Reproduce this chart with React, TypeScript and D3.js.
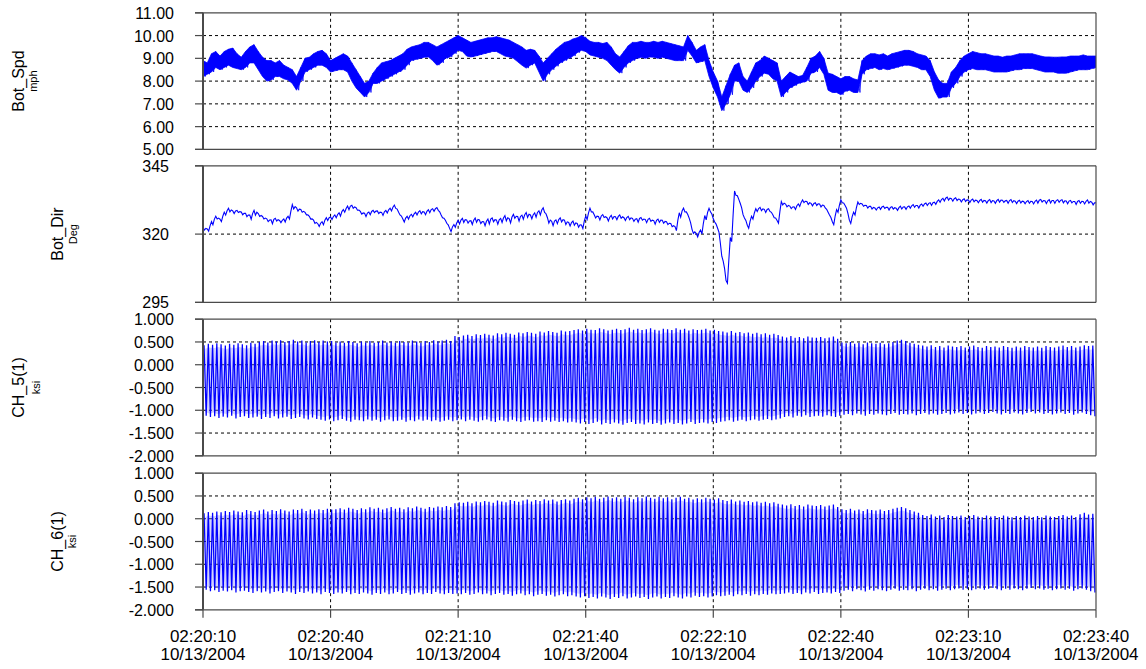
import React from "react";
import * as d3 from "d3";

// ---------- data ----------
const START = new Date(2004, 9, 13, 2, 20, 10);
const SPAN_SECONDS = 210;
const X_TICK_SECONDS = [0, 30, 60, 90, 120, 150, 180, 210];

const SPD_TICKS = [5, 6, 7, 8, 9, 10, 11];
const DIR_TICKS = [295, 320, 345];
const KSI_TICKS = [-2, -1.5, -1, -0.5, 0, 0.5, 1];

// Bot_Spd (mph): per-second max / min of the noisy signal
const SPD_HI = [
  8.9, 8.8, 9.2, 9.3, 9.1, 9.3, 9.4, 9.45, 9.2, 9.05,
  9.3, 9.5, 9.6, 9.3, 9.05, 8.9, 8.9, 8.8, 8.9, 8.7,
  8.6, 8.5, 8.2, 8.6, 9.0, 9.05, 9.2, 9.3, 9.35, 9.2,
  8.9, 9.0, 9.1, 9.2, 9.1, 8.8, 8.5, 8.2, 7.9, 8.0,
  8.35, 8.6, 8.8, 8.85, 8.9, 9.0, 9.1, 9.2, 9.4, 9.5,
  9.55, 9.6, 9.7, 9.7, 9.6, 9.5, 9.6, 9.7, 9.8, 9.9,
  10.0, 9.9, 9.8, 9.7, 9.75, 9.8, 9.85, 9.9, 9.9, 9.95,
  9.9, 9.85, 9.8, 9.7, 9.6, 9.5, 9.35, 9.4, 9.35, 9.1,
  8.8, 9.0, 9.2, 9.4, 9.55, 9.7, 9.75, 9.85, 9.9, 10.0,
  9.9, 9.75, 9.7, 9.7, 9.65, 9.7, 9.5, 9.2, 9.06, 9.3,
  9.55, 9.7, 9.7, 9.75, 9.7, 9.7, 9.75, 9.7, 9.75, 9.7,
  9.65, 9.6, 9.55, 9.5, 10.0, 9.7, 9.35, 9.5, 9.6, 8.9,
  8.4, 8.0, 7.3, 7.8, 8.3, 8.7, 8.8, 8.2, 8.0, 8.4,
  8.8, 8.9, 9.1, 9.0, 8.9, 8.8, 8.0, 8.2, 8.4, 8.3,
  8.2, 8.25, 8.6, 9.0, 9.1, 9.3, 9.0, 8.35, 8.3, 8.2,
  8.1, 8.2, 8.2, 8.1, 8.05, 8.9, 9.1, 9.2, 9.2, 9.15,
  9.2, 9.1, 9.2, 9.25, 9.3, 9.35, 9.35, 9.3, 9.2, 9.15,
  9.1, 8.9, 8.4, 8.05, 7.9, 7.9, 8.4, 8.6, 8.9, 9.1,
  9.2, 9.3, 9.25, 9.2, 9.2, 9.15, 9.1, 9.1, 9.05, 9.1,
  9.1, 9.15, 9.2, 9.2, 9.2, 9.2, 9.15, 9.1, 9.06, 9.06,
  9.05, 9.05, 9.06, 9.06, 9.1, 9.1, 9.1, 9.15, 9.1, 9.1,
  9.1,
];
const SPD_LO = [
  8.2, 8.3, 8.4, 8.6, 8.5, 8.6, 8.7, 8.6, 8.55, 8.5,
  8.6, 8.8, 8.8, 8.5, 8.2, 8.0, 8.05, 8.2, 8.2, 8.1,
  8.05, 7.9, 7.6, 8.0, 8.4, 8.5, 8.6, 8.7, 8.7, 8.6,
  8.4, 8.45, 8.5, 8.5, 8.4, 8.0, 7.7, 7.5, 7.3, 7.5,
  7.9, 7.9, 8.0, 8.1, 8.2, 8.3, 8.4, 8.5, 8.7, 8.9,
  8.95, 9.0, 9.05, 9.06, 8.9, 8.7, 8.8, 9.0, 9.06, 9.2,
  9.35, 9.3, 9.1, 9.06, 9.1, 9.15, 9.2, 9.25, 9.3, 9.3,
  9.2, 9.1, 9.06, 9.0, 8.85, 8.7, 8.57, 8.7, 8.8, 8.4,
  8.0, 8.3, 8.5, 8.65, 8.8, 8.9, 9.0, 9.1, 9.25, 9.35,
  9.3, 9.15, 9.1, 9.05, 9.0, 8.9, 8.7, 8.5, 8.35, 8.6,
  8.8, 8.9, 9.0, 9.05, 9.0, 9.06, 9.05, 9.0, 9.05, 9.0,
  8.95, 8.9, 8.9, 8.9, 9.35, 9.1, 8.8, 8.85, 8.9, 8.2,
  7.7, 7.3, 6.7, 7.0, 7.4, 8.0, 8.0, 7.6, 7.5, 7.7,
  8.0, 8.2, 8.35, 8.3, 8.1, 8.0, 7.3, 7.5, 7.7, 7.8,
  7.9, 7.95, 8.0, 8.35, 8.4, 8.6, 8.3, 7.6, 7.5, 7.5,
  7.4, 7.55, 7.6, 7.5, 7.5, 8.3, 8.5, 8.55, 8.6, 8.5,
  8.55, 8.5, 8.55, 8.6, 8.65, 8.7, 8.7, 8.65, 8.6, 8.5,
  8.5, 8.2, 7.6, 7.25, 7.3, 7.3, 7.7, 7.9, 8.2, 8.4,
  8.5, 8.55, 8.5, 8.5, 8.5, 8.45, 8.4, 8.4, 8.4, 8.4,
  8.45, 8.5, 8.5, 8.55, 8.55, 8.55, 8.5, 8.45, 8.4, 8.4,
  8.4, 8.35, 8.35, 8.35, 8.4, 8.45, 8.5, 8.5, 8.5, 8.55,
  8.6,
];

// Bot_Dir (Deg): per-second samples
const DIR = [
  322, 321.5, 324, 326, 325, 327.5, 328.8, 328, 328.3, 327.6,
  327, 326.2, 327.8, 327, 326, 325.1, 324.5, 325.3, 324.6, 325,
  326, 330, 329, 328.5, 327.5, 326, 324.5, 323.3, 324, 325.5,
  325.8, 326.5, 327.2, 328.5, 329.6, 330, 329.2, 327.8, 327, 327.6,
  328.3, 328, 327.4, 328.2, 329, 330, 327.5, 325, 326, 326.8,
  327.5, 328, 327.6, 328.4, 328.8, 329.2, 326.5, 324.5, 321.5, 323,
  324.4, 325, 324.6, 324.2, 325.1, 324.5, 323.8, 324.6, 325.2, 324.4,
  325, 325.8, 324.9, 326.5, 325.6, 326.2, 327, 326.3, 327, 327.8,
  328.8, 325, 323.9, 324.5, 325.2, 324.3, 323.6, 324, 323.2, 322.7,
  326, 328.8, 326.5, 325.8, 326.6, 325.4, 326.2, 325.8, 326.4, 325.5,
  325.9, 325.2, 325, 325.6, 324.8, 325.2, 324.3, 324.9, 324.5, 324,
  323.3, 322, 327, 328.8, 326.5, 321, 319.6, 320.8, 326, 328.8,
  325, 321.5, 311, 302.5, 318, 335, 332, 326.5, 322.7, 326,
  328.8, 329.2, 328.5, 328.8, 326.5, 324.5, 331.3, 330.5, 329.8, 329.5,
  330.6, 332, 331.4, 330.8, 331, 330.5, 330, 327.5, 324, 328.5,
  332, 330, 324.5, 327.5, 331.3, 330.6, 330, 329.7, 329.2, 329.5,
  329.8, 329.3, 329.6, 329.1, 329.7, 329.5, 329.9, 330.3, 330, 330.6,
  330.9, 331, 331.3, 332.1, 332.6, 333, 332.5, 332.8, 332.2, 332.4,
  332, 332.3, 331.9, 332.2, 331.8, 332.1, 331.7, 332.2, 332, 331.8,
  332.1, 331.6, 331.9, 331.5, 331.8, 331.5, 331.9, 332.2, 331.7, 332,
  331.8, 332.1, 332, 331.6, 331.9, 331.4, 331.8, 331.5, 331.9, 331.2,
  331,
];
// Bot_Dir: per-second scatter of the raw samples around DIR (Deg)
const DIR_SPREAD = [
  1.0, 0.8, 1.2, 1.0, 0.9, 1.1, 1.3, 1.0, 0.8, 1.0,
  1.2, 1.5, 1.8, 1.0, 0.9, 1.0, 1.4, 1.0, 0.8, 1.1,
  1.0, 1.6, 1.2, 1.0, 0.9, 1.0, 1.2, 1.0, 1.1, 1.0,
  0.9, 1.0, 1.2, 1.0, 1.3, 1.1, 0.9, 1.0, 1.2, 1.0,
  0.8, 1.0, 1.1, 0.9, 1.0, 1.2, 1.0, 1.1, 1.0, 0.9,
  1.0, 1.2, 1.0, 1.1, 0.9, 1.0, 1.0, 1.1, 1.2, 1.0,
  1.3, 1.5, 1.2, 1.4, 1.6, 1.3, 1.5, 1.8, 1.4, 1.6,
  1.5, 1.9, 1.6, 1.4, 1.7, 1.5, 1.8, 1.4, 1.6, 1.5,
  1.7, 2.0, 1.6, 1.4, 1.5, 1.6, 1.3, 1.5, 1.4, 1.3,
  1.2, 1.4, 1.2, 1.3, 1.1, 1.2, 1.3, 1.1, 1.2, 1.0,
  1.2, 1.1, 1.3, 1.0, 1.2, 1.1, 1.3, 1.2, 1.1, 1.0,
  1.2, 1.5, 1.6, 1.4, 1.3, 1.5, 1.2, 1.4, 1.6, 1.3,
  1.2, 1.5, 1.8, 1.0, 1.5, 1.6, 1.4, 1.2, 1.1, 1.0,
  1.0, 1.2, 1.1, 1.0, 1.1, 1.0, 1.2, 1.0, 0.9, 1.0,
  0.9, 1.0, 1.1, 0.9, 1.0, 1.1, 0.9, 1.0, 1.1, 1.0,
  1.1, 1.0, 1.2, 1.0, 0.9, 0.8, 0.9, 1.0, 0.8, 0.9,
  0.8, 1.0, 0.9, 0.8, 1.0, 0.9, 0.8, 1.0, 0.9, 0.8,
  0.9, 1.0, 0.8, 0.9, 1.0, 1.1, 0.9, 1.0, 0.9, 1.0,
  0.9, 1.0, 0.8, 1.0, 0.9, 1.1, 0.9, 1.0, 0.8, 1.0,
  1.1, 0.9, 1.0, 0.8, 1.0, 0.9, 1.1, 0.9, 1.0, 1.2,
  1.0, 0.9, 1.1, 1.0, 0.9, 1.1, 1.0, 0.9, 1.2, 1.0,
  1.0,
];

// CH_5(1) (ksi): per-cycle peak / trough
const CH5_HI = [
  0.43, 0.46, 0.44, 0.47, 0.45, 0.42, 0.46, 0.44, 0.47, 0.45, 0.43, 0.48, 0.46,
  0.50, 0.52, 0.49, 0.53, 0.51, 0.54, 0.50, 0.52, 0.55, 0.51, 0.53, 0.49, 0.52, 0.54, 0.50, 0.53, 0.51, 0.52,
  0.49, 0.51, 0.48, 0.52, 0.50, 0.47, 0.51, 0.49, 0.52, 0.48, 0.50, 0.53, 0.49, 0.51, 0.48, 0.52, 0.50, 0.49, 0.53, 0.51, 0.48, 0.52, 0.50, 0.54, 0.51, 0.53, 0.55, 0.52,
  0.63, 0.61,
  0.64, 0.66, 0.63, 0.67, 0.65, 0.68, 0.66, 0.64, 0.69, 0.67, 0.70, 0.68, 0.66, 0.71, 0.69, 0.72, 0.70, 0.68, 0.73, 0.71, 0.74, 0.72, 0.70, 0.75, 0.73, 0.74,
  0.76, 0.78, 0.75, 0.79, 0.77, 0.76, 0.80, 0.78, 0.75, 0.77, 0.79, 0.76, 0.78, 0.81, 0.77, 0.79, 0.76, 0.78, 0.80, 0.77, 0.75, 0.79, 0.78, 0.76, 0.80, 0.77, 0.79, 0.75, 0.78, 0.76, 0.77, 0.79, 0.75, 0.77, 0.74,
  0.73, 0.71, 0.74, 0.70, 0.72, 0.69, 0.71, 0.68, 0.70, 0.67, 0.69, 0.66, 0.68, 0.65,
  0.62, 0.60, 0.63, 0.59, 0.61, 0.58, 0.62, 0.60, 0.59, 0.61, 0.58, 0.60, 0.62, 0.57,
  0.49, 0.47, 0.50, 0.46, 0.48, 0.45, 0.49, 0.47, 0.46, 0.48, 0.45, 0.47, 0.50, 0.53, 0.55, 0.52, 0.48, 0.46, 0.44,
  0.42, 0.40, 0.43, 0.39, 0.41, 0.38, 0.42, 0.40, 0.39, 0.41, 0.38, 0.40, 0.42, 0.39, 0.37, 0.41, 0.39, 0.40, 0.38, 0.41,
  0.39, 0.37, 0.40, 0.38, 0.41, 0.39, 0.38, 0.40, 0.37, 0.41, 0.39, 0.38, 0.40, 0.42, 0.39, 0.41, 0.38, 0.40, 0.43, 0.41, 0.42,
];
const CH5_LO = [
  -1.12, -1.15, -1.13, -1.17, -1.14, -1.16, -1.12, -1.18, -1.15, -1.13, -1.17, -1.16, -1.14, -1.19, -1.15, -1.17, -1.13, -1.18, -1.16, -1.14, -1.19, -1.17, -1.15, -1.18, -1.20, -1.16, -1.19,
  -1.21, -1.23, -1.20, -1.24, -1.22, -1.19, -1.23, -1.25, -1.21, -1.22, -1.24, -1.20, -1.23, -1.21, -1.25, -1.22, -1.20, -1.24, -1.23, -1.21, -1.25, -1.22, -1.24, -1.20, -1.23, -1.21, -1.24, -1.22, -1.25, -1.23, -1.21, -1.24,
  -1.22, -1.20, -1.24, -1.21, -1.23, -1.25, -1.22, -1.20, -1.24, -1.26, -1.22, -1.23, -1.25, -1.21, -1.24, -1.26, -1.23, -1.22, -1.25, -1.24, -1.26, -1.22, -1.25, -1.23, -1.26, -1.24, -1.27, -1.25,
  -1.27, -1.29, -1.26, -1.30, -1.28, -1.25, -1.31, -1.28, -1.30, -1.27, -1.29, -1.32, -1.28, -1.26, -1.30, -1.29, -1.31, -1.27, -1.30, -1.28, -1.32, -1.29, -1.27, -1.30, -1.28, -1.31, -1.29, -1.26, -1.30, -1.28, -1.27, -1.29, -1.26, -1.28, -1.25,
  -1.24, -1.22, -1.25, -1.23, -1.21, -1.24, -1.22, -1.20, -1.23, -1.21, -1.19, -1.22, -1.20, -1.18,
  -1.15, -1.13, -1.16, -1.12, -1.14, -1.11, -1.15, -1.13, -1.12, -1.14, -1.11, -1.13, -1.15, -1.12,
  -1.10, -1.08, -1.11, -1.07, -1.09, -1.12, -1.08, -1.10, -1.07, -1.09, -1.11, -1.08, -1.06, -1.10, -1.08, -1.09, -1.07, -1.11, -1.08, -1.06,
  -1.09, -1.07, -1.10, -1.08, -1.06, -1.09, -1.07, -1.05, -1.08, -1.06, -1.09, -1.07, -1.05, -1.08, -1.06, -1.04, -1.07, -1.09, -1.06, -1.08,
  -1.05, -1.07, -1.09, -1.06, -1.04, -1.07, -1.05, -1.08, -1.06, -1.09, -1.07, -1.05, -1.08, -1.06, -1.10, -1.07, -1.05, -1.08, -1.11, -1.13,
];

// CH_6(1) (ksi): per-cycle peak / trough
const CH6_HI = [
  0.12, 0.15, 0.13, 0.16, 0.14, 0.17, 0.15, 0.18, 0.16, 0.14, 0.19, 0.17, 0.15, 0.18, 0.20, 0.16, 0.19, 0.17, 0.21, 0.18, 0.16, 0.20, 0.19, 0.22, 0.17, 0.20, 0.18, 0.21, 0.19, 0.22, 0.20,
  0.21, 0.23, 0.20, 0.24, 0.22, 0.19, 0.23, 0.21, 0.25, 0.22, 0.24, 0.20, 0.23, 0.26, 0.22, 0.24, 0.21, 0.25, 0.23, 0.27, 0.24, 0.22, 0.26, 0.24, 0.27, 0.25, 0.28, 0.26,
  0.34, 0.36, 0.35, 0.37, 0.34, 0.38, 0.36, 0.39, 0.37, 0.35, 0.40, 0.38, 0.36, 0.41, 0.39, 0.37, 0.40, 0.42, 0.38, 0.41, 0.39, 0.43, 0.40, 0.42, 0.38, 0.41, 0.43, 0.40,
  0.44, 0.46, 0.43, 0.47, 0.45, 0.48, 0.44, 0.46, 0.49, 0.45, 0.47, 0.44, 0.48, 0.46, 0.43, 0.47, 0.45, 0.49, 0.46, 0.44, 0.48, 0.45, 0.47, 0.43, 0.46, 0.48, 0.44, 0.46, 0.42, 0.45, 0.43, 0.46, 0.44, 0.42, 0.45,
  0.41, 0.39, 0.42, 0.38, 0.40, 0.37, 0.39, 0.36, 0.38, 0.35, 0.37, 0.34, 0.36, 0.33,
  0.31, 0.29, 0.32, 0.28, 0.30, 0.27, 0.31, 0.29, 0.28, 0.30, 0.27, 0.29, 0.31, 0.26,
  0.21, 0.19, 0.22, 0.18, 0.20, 0.17, 0.21, 0.19, 0.18, 0.20, 0.17, 0.19, 0.22, 0.24, 0.26, 0.23, 0.19, 0.16, 0.13,
  0.08, 0.06, 0.09, 0.05, 0.07, 0.04, 0.08, 0.06, 0.05, 0.07, 0.04, 0.06, 0.08, 0.05, 0.03, 0.07, 0.05, 0.06, 0.04, 0.07,
  0.05, 0.03, 0.06, 0.04, 0.07, 0.05, 0.04, 0.06, 0.03, 0.07, 0.05, 0.04, 0.06, 0.08, 0.05, 0.07, 0.04, 0.10, 0.13, 0.09, 0.11,
];
const CH6_LO = [
  -1.56, -1.59, -1.57, -1.61, -1.58, -1.60, -1.57, -1.62, -1.59, -1.58,
  -1.61, -1.63, -1.59, -1.62, -1.60, -1.64, -1.61, -1.59, -1.63, -1.60,
  -1.62, -1.65, -1.61, -1.63, -1.60, -1.64, -1.62, -1.66, -1.61, -1.63,
  -1.65, -1.62, -1.64, -1.61, -1.66, -1.63, -1.65, -1.62, -1.64, -1.67,
  -1.63, -1.65, -1.62, -1.66, -1.64, -1.61, -1.65, -1.63, -1.67, -1.64,
  -1.62, -1.66, -1.63, -1.65, -1.61, -1.64, -1.66, -1.63, -1.65,
  -1.64, -1.66, -1.63, -1.67, -1.65, -1.62, -1.66, -1.64, -1.68, -1.65, -1.63, -1.67, -1.65, -1.69, -1.66, -1.64, -1.68, -1.66, -1.70, -1.67, -1.65, -1.69, -1.67, -1.71, -1.68, -1.66, -1.70, -1.68,
  -1.71, -1.73, -1.70, -1.74, -1.72, -1.75, -1.71, -1.73, -1.76, -1.72, -1.74, -1.70, -1.75, -1.73, -1.71, -1.74, -1.72, -1.76, -1.73, -1.71, -1.75, -1.72, -1.74, -1.70, -1.73, -1.75, -1.71, -1.73, -1.69, -1.72, -1.70, -1.73, -1.71, -1.68, -1.70,
  -1.69, -1.67, -1.70, -1.66, -1.68, -1.65, -1.69, -1.66, -1.68, -1.65, -1.67, -1.64, -1.66, -1.65,
  -1.64, -1.62, -1.65, -1.63, -1.66, -1.62, -1.64, -1.61, -1.65, -1.63, -1.62, -1.64, -1.61, -1.63,
  -1.58, -1.56, -1.59, -1.55, -1.57, -1.60, -1.56, -1.58, -1.55, -1.57,
  -1.59, -1.56, -1.54, -1.58, -1.56, -1.57, -1.55, -1.59, -1.56, -1.54,
  -1.57, -1.55, -1.58, -1.56, -1.54, -1.57, -1.55, -1.53, -1.56, -1.54,
  -1.57, -1.55, -1.53, -1.56, -1.54, -1.52, -1.55, -1.57, -1.54, -1.56,
  -1.53, -1.55, -1.57, -1.54, -1.52, -1.55, -1.53, -1.56, -1.54, -1.57,
  -1.55, -1.53, -1.56, -1.54, -1.58, -1.55, -1.53, -1.56, -1.59, -1.62,
];

// ---------- layout ----------
const W = 1146;
const H = 669;
const PL = 203;
const PR = 1096;
const TOPS = [12.8, 165.8, 319.2, 473.2];
const PH = 136.6;
const FONT = '"Liberation Sans", Arial, Helvetica, sans-serif';
const BLUE = "#0000ff";
const FRAME = "#4a4a4a";

const fix = (f: (n: number) => string) => (v: number) => f(v).replace("\u2212", "-");

type PanelDef = {
  title: string;
  unit: string;
  domain: [number, number];
  ticks: number[];
  fmt: (v: number) => string;
  titleX: number;
  unitX: number;
  labelX: number;
  kind: "band" | "line" | "osc";
  hi?: number[];
  lo?: number[];
  vals?: number[];
  spread?: number[];
};

const PANELS: PanelDef[] = [
  { title: "Bot_Spd", unit: "mph", domain: [5, 11], ticks: SPD_TICKS, fmt: fix(d3.format(".2f")), titleX: 23.5, unitX: 37, labelX: 174, kind: "band", hi: SPD_HI, lo: SPD_LO },
  { title: "Bot_Dir", unit: "Deg", domain: [295, 345], ticks: DIR_TICKS, fmt: fix(d3.format("d")), titleX: 62.5, unitX: 76.5, labelX: 169, kind: "line", vals: DIR, spread: DIR_SPREAD },
  { title: "CH_5(1)", unit: "ksi", domain: [-2, 1], ticks: KSI_TICKS, fmt: fix(d3.format(".3f")), titleX: 24, unitX: 39.5, labelX: 174, kind: "osc", hi: CH5_HI, lo: CH5_LO },
  { title: "CH_6(1)", unit: "ksi", domain: [-2, 1], ticks: KSI_TICKS, fmt: fix(d3.format(".3f")), titleX: 62.5, unitX: 76, labelX: 174, kind: "osc", hi: CH6_HI, lo: CH6_LO },
];

export default function App() {
  const x = d3
    .scaleTime()
    .domain([START, new Date(+START + SPAN_SECONDS * 1000)])
    .range([PL, PR]);
  const tx = (s: number) => x(new Date(+START + s * 1000));
  const fmtTime = d3.timeFormat("%H:%M:%S");
  const fmtDate = d3.timeFormat("%m/%d/%Y");
  const lastTop = TOPS[3] + PH;

  return (
    <svg width={W} height={H} style={{ position: "absolute", left: 0, top: 0, background: "#fff" }} fontFamily={FONT}>
      <defs>
        {PANELS.map((p, i) => (
          <clipPath id={`clip${i}`} key={i}>
            <rect x={PL} y={TOPS[i]} width={PR - PL} height={PH} />
          </clipPath>
        ))}
      </defs>
      <rect x={0} y={0} width={W} height={H} fill="#fff" />
      {PANELS.map((p, i) => {
        const top = TOPS[i];
        const bottom = top + PH;
        const y = d3.scaleLinear().domain(p.domain).range([bottom, top]);
        let dataEl: React.ReactNode = null;
        if (p.kind === "band" && p.hi && p.lo) {
          const lo = p.lo;
          const area = d3
            .area<number>()
            .x((_, k) => tx(k))
            .y0((_, k) => y(lo[k]))
            .y1((d) => y(d));
          const zig: [number, number][] = [];
          p.hi.forEach((h, k) => {
            zig.push([tx(k), y(h)]);
            zig.push([tx(k + 0.5), y(lo[k])]);
          });
          dataEl = (
            <g>
              <path d={area(p.hi) || ""} fill={BLUE} stroke={BLUE} strokeWidth={0.8} />
              <path d={d3.line()(zig) || ""} fill="none" stroke={BLUE} strokeWidth={0.8} />
            </g>
          );
        } else if (p.kind === "line" && p.vals) {
          const vals = p.vals;
          const sp = p.spread || [];
          const pts: [number, number][] = [];
          vals.forEach((v, k) => {
            const s = sp[k] ?? 0;
            pts.push([tx(k), y(v + s / 2)]);
            if (k < vals.length - 1) {
              pts.push([tx(k + 0.33), y(v - s / 2)]);
              pts.push([tx(k + 0.66), y((v + vals[k + 1]) / 2 + s / 3)]);
            }
          });
          dataEl = <path d={d3.line()(pts) || ""} fill="none" stroke={BLUE} strokeWidth={1.1} />;
        } else if (p.kind === "osc" && p.hi && p.lo) {
          const n = Math.min(p.hi.length, p.lo.length);
          const T = SPAN_SECONDS / n;
          const pts: [number, number][] = [];
          for (let k = 0; k < n; k++) {
            pts.push([tx((k + 0.25) * T), y(p.hi[k])]);
            pts.push([tx((k + 0.75) * T), y(p.lo[k])]);
          }
          const hi = p.hi;
          const lo = p.lo;
          const band = d3
            .area<number>()
            .x((_, k) => tx((k + 0.5) * T))
            .y0((_, k) => y(lo[k] + 0.08))
            .y1((d) => y(d - 0.08));
          dataEl = (
            <g>
              <path d={band(hi.slice(0, n)) || ""} fill="#7f7fff" opacity={0.35} />
              <path d={d3.line()(pts) || ""} fill="none" stroke={BLUE} strokeWidth={1.25} />
            </g>
          );
        }
        const inner = p.ticks.filter((t) => t !== p.domain[0] && t !== p.domain[1]);
        const innerX = X_TICK_SECONDS.filter((s) => s !== 0 && s !== SPAN_SECONDS);
        const cy = (top + bottom) / 2;
        return (
          <g key={i}>
            {inner.map((t) => (
              <line key={`h${t}`} x1={PL} x2={PR} y1={y(t)} y2={y(t)} stroke="#000" strokeWidth={1} strokeDasharray="3,3" />
            ))}
            {innerX.map((s) => (
              <line key={`v${s}`} x1={tx(s)} x2={tx(s)} y1={top} y2={bottom} stroke="#000" strokeWidth={1} strokeDasharray="3,3" />
            ))}
            <g clipPath={`url(#clip${i})`}>{dataEl}</g>
            <line x1={PL - 8} x2={PR} y1={top} y2={top} stroke={FRAME} strokeWidth={1.2} />
            <line x1={PL - 8} x2={PR} y1={bottom} y2={bottom} stroke={FRAME} strokeWidth={1.2} />
            <line x1={PR} x2={PR} y1={top} y2={bottom} stroke={FRAME} strokeWidth={1.2} />
            <line x1={PL} x2={PL} y1={top} y2={bottom} stroke={FRAME} strokeWidth={2} />
            {p.ticks.map((t) => (
              <g key={`t${t}`}>
                <line x1={PL - 8} x2={PL} y1={y(t)} y2={y(t)} stroke={FRAME} strokeWidth={1.2} />
                <text x={p.labelX} y={y(t) + 6} textAnchor="end" fontSize={16} fill="#000">
                  {p.fmt(t)}
                </text>
              </g>
            ))}
            <text transform={`translate(${p.titleX},${cy}) rotate(-90)`} textAnchor="middle" fontSize={16} fill="#000">
              {p.title}
            </text>
            <text transform={`translate(${p.unitX},${cy}) rotate(-90)`} textAnchor="middle" fontSize={11} fill="#000">
              {p.unit}
            </text>
          </g>
        );
      })}
      {X_TICK_SECONDS.map((s) => {
        const d = new Date(+START + s * 1000);
        const xx = tx(s);
        return (
          <g key={`x${s}`}>
            <line x1={xx} x2={xx} y1={lastTop} y2={lastTop + 8} stroke={FRAME} strokeWidth={1.2} />
            <text x={xx} y={641.5} textAnchor="middle" fontSize={17} fill="#000">
              {fmtTime(d)}
            </text>
            <text x={xx} y={660} textAnchor="middle" fontSize={17} fill="#000">
              {fmtDate(d)}
            </text>
          </g>
        );
      })}
    </svg>
  );
}
